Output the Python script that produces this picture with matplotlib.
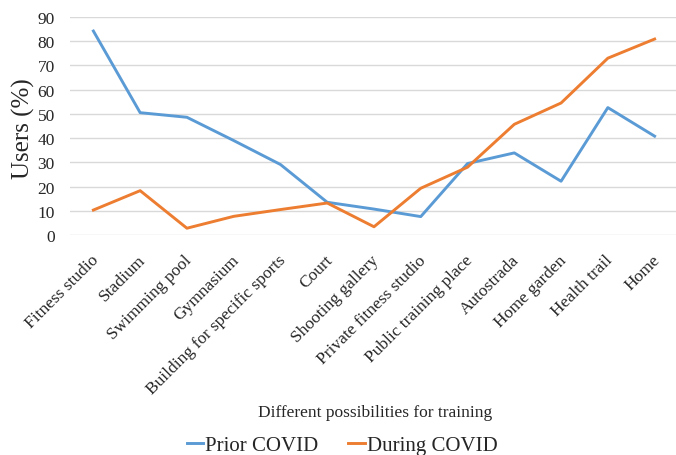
import matplotlib.pyplot as plt
from matplotlib.transforms import ScaledTranslation

plt.rcParams['font.family'] = ['Liberation Serif', 'DejaVu Serif']

places = ['Fitness studio', 'Stadium', 'Swimming pool', 'Gymnasium',
          'Building for specific sports', 'Court', 'Shooting gallery',
          'Private fitness studio', 'Public training place', 'Autostrada',
          'Home garden', 'Health trail', 'Home']
prior = [84.2, 50.5, 48.6, 39.0, 29.1, 13.5, 10.7, 7.6, 29.5, 33.9, 22.2, 52.6, 40.8]
during = [10.3, 18.3, 2.8, 7.7, 10.5, 13.2, 3.4, 19.3, 28.0, 45.7, 54.5, 73.0, 80.9]

txt = '#262626'
fig = plt.figure(figsize=(6.76, 4.56), dpi=100)
ax = fig.add_axes([70/676, 1 - 236/456, 608/676, 218/456])

x = list(range(len(places)))
ax.plot(x, prior, color='#5B9BD5', lw=2.1, label='Prior COVID')
ax.plot(x, during, color='#ED7D31', lw=2.1, label='During COVID')

ax.set_xlim(-0.5, len(places) - 0.5)
ax.set_ylim(0, 90)
ax.set_yticks(range(0, 91, 10))
ax.grid(axis='y', color='#D9D9D9', lw=1)
ax.set_axisbelow(True)
for s in ax.spines.values():
    s.set_visible(False)
ax.tick_params(length=0, labelsize=12.5, colors=txt)
ax.tick_params(axis='y', pad=11)
ax.set_xticks(x)
ax.set_xticklabels(places, rotation=45, ha='right', va='top', rotation_mode='anchor')
ax.tick_params(axis='x', pad=12)
shift = ScaledTranslation(-0.03, 0, fig.dpi_scale_trans)
for lab in ax.get_xticklabels():
    lab.set_transform(lab.get_transform() + shift)

fig.text(23/676, 1 - 129/456, 'Users (%)', fontsize=18, rotation=90,
         ha='center', va='center', color=txt)
fig.text(375/676, 1 - 413/456, 'Different possibilities for training', fontsize=12.5,
         ha='center', va='center', color=txt)

fig.legend(loc='center', bbox_to_anchor=(342/676, 1 - 446/456), ncol=2, frameon=False,
           fontsize=15, handlelength=0.8, handletextpad=0.1, columnspacing=1.4,
           labelcolor=txt, borderpad=0, borderaxespad=0)

fig.savefig('out.png', dpi=100)
